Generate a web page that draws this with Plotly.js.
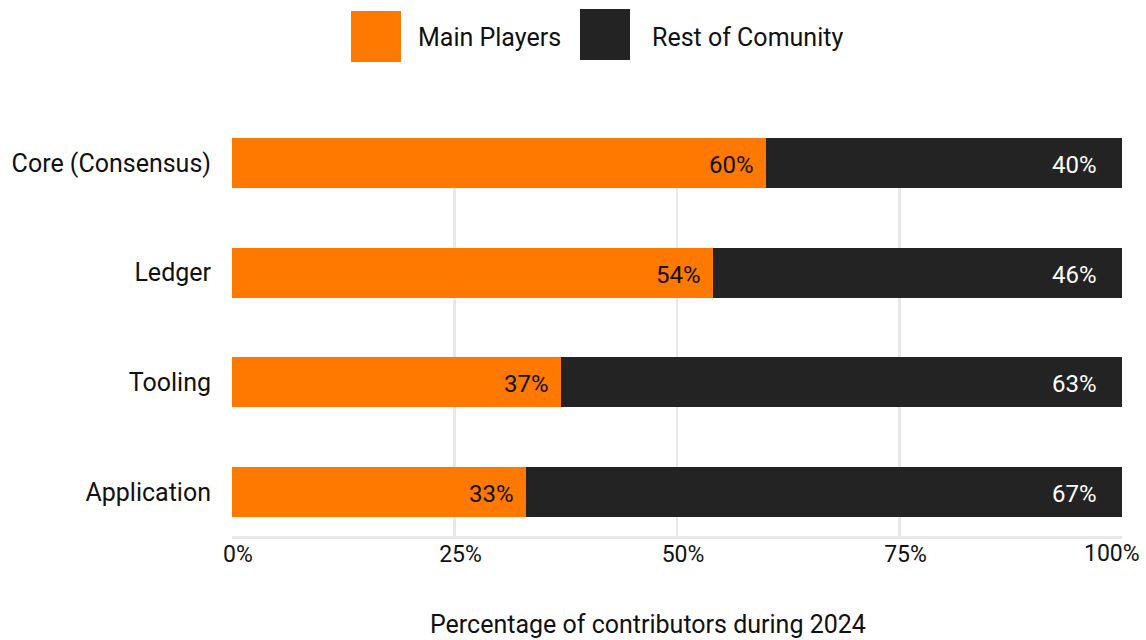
<!DOCTYPE html>
<html>
<head>
<meta charset="utf-8">
<script src="https://cdn.plot.ly/plotly-3.0.1.min.js"></script>
<style>
html,body{margin:0;padding:0;background:#fff;}
#chart{width:1146px;height:640px;}
</style>
</head>
<body>
<div id="chart"></div>
<script>
const categories = ['Core (Consensus)', 'Ledger', 'Tooling', 'Application'];
const mainPlayers = [60, 54, 37, 33];
const restOfCommunity = [40, 46, 63, 67];
const seriesNames = ['Main Players', 'Rest of Comunity'];
const seriesColors = ['#ff7800', '#232323'];
const labelColors = ['#111111', '#ffffff'];
const tickValues = [0, 25, 50, 75, 100];
const tickLabels = ['0%', '25%', '50%', '75%', '100%'];
const axisTitle = 'Percentage of contributors during 2024';

const W = 1146, H = 640;
const M = {l: 232, r: 24, t: 138, b: 104};
const pw = W - M.l - M.r, ph = H - M.t - M.b;
const px = x => (x - M.l) / pw;
const py = y => (H - M.b - y) / ph;
const FONT = 'Roboto, "Noto Sans", sans-serif';

const traces = [
  {type: 'bar', orientation: 'h', name: seriesNames[0], y: categories, x: mainPlayers,
   marker: {color: seriesColors[0]}, width: 0.456, hoverinfo: 'none'},
  {type: 'bar', orientation: 'h', name: seriesNames[1], y: categories, x: restOfCommunity,
   marker: {color: seriesColors[1]}, width: 0.456, hoverinfo: 'none'}
];

const lastIdx = tickValues.length - 1;
// axis shows all ticks/gridlines; the last label is placed so that it stays inside the page
const axisTickText = tickLabels.map((t, i) => i === lastIdx ? '' : t);

const annotations = [];
categories.forEach((c, i) => {
  annotations.push({x: mainPlayers[i], y: c, xref: 'x', yref: 'y', text: mainPlayers[i] + '%',
    showarrow: false, xanchor: 'right', yanchor: 'middle', xshift: -10, yshift: -2,
    font: {family: FONT, size: 24, color: labelColors[0]}});
  annotations.push({x: mainPlayers[i] + restOfCommunity[i], y: c, xref: 'x', yref: 'y',
    text: restOfCommunity[i] + '%', showarrow: false, xanchor: 'right', yanchor: 'middle', xshift: -23, yshift: -2,
    font: {family: FONT, size: 24, color: labelColors[1]}});
});
annotations.push({x: tickValues[lastIdx], y: 0, xref: 'x', yref: 'paper', text: tickLabels[lastIdx],
  showarrow: false, xanchor: 'center', yanchor: 'top', xshift: -10, yshift: -2,
  font: {family: FONT, size: 23, color: '#111'}});
// legend texts
annotations.push({x: px(416), y: py(37), xref: 'paper', yref: 'paper', text: seriesNames[0],
  showarrow: false, xanchor: 'left', yanchor: 'middle', font: {family: FONT, size: 25, color: '#111'}});
annotations.push({x: px(650), y: py(37), xref: 'paper', yref: 'paper', text: seriesNames[1],
  showarrow: false, xanchor: 'left', yanchor: 'middle', font: {family: FONT, size: 25, color: '#111'}});
// axis title
annotations.push({x: px(648), y: py(624), xref: 'paper', yref: 'paper', text: axisTitle,
  showarrow: false, xanchor: 'center', yanchor: 'middle', font: {family: FONT, size: 25, color: '#111'}});

const shapes = [
  {type: 'rect', xref: 'paper', yref: 'paper', x0: px(351), x1: px(401), y0: py(62), y1: py(11),
   fillcolor: seriesColors[0], line: {width: 0}},
  {type: 'rect', xref: 'paper', yref: 'paper', x0: px(580), x1: px(630), y0: py(60), y1: py(9),
   fillcolor: seriesColors[1], line: {width: 0}}
];

const layout = {
  width: W, height: H,
  margin: M,
  paper_bgcolor: '#fff', plot_bgcolor: '#fff',
  barmode: 'stack',
  showlegend: false,
  font: {family: FONT, size: 24, color: '#111'},
  xaxis: {
    range: [0, 100], tickvals: tickValues, ticktext: axisTickText,
    showgrid: true, gridcolor: '#e8e8e8', gridwidth: 2.5, zeroline: false,
    showline: true, linecolor: '#e8e8e8', linewidth: 2.5,
    ticks: '', ticklabelstandoff: -4, ticklabelshift: 6,
    tickfont: {family: FONT, size: 23, color: '#111'}, fixedrange: true
  },
  yaxis: {
    type: 'category', categoryorder: 'array', categoryarray: categories,
    range: [3.40, -0.228],
    showgrid: false, zeroline: false, showline: false,
    ticks: '', ticklabelstandoff: 20,
    tickfont: {family: FONT, size: 25, color: '#111'}, fixedrange: true
  },
  annotations: annotations,
  shapes: shapes
};

Plotly.newPlot('chart', traces, layout, {displayModeBar: false, staticPlot: true});
</script>
</body>
</html>
